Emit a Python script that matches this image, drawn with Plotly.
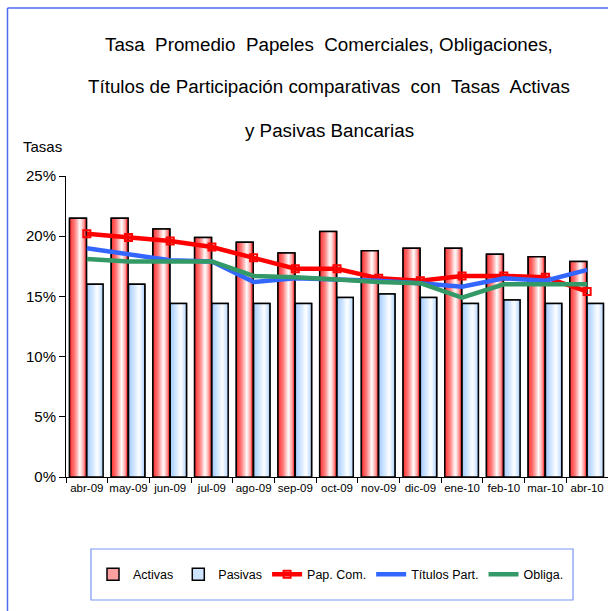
import plotly.graph_objects as go

categories = ["abr-09", "may-09", "jun-09", "jul-09", "ago-09", "sep-09", "oct-09",
              "nov-09", "dic-09", "ene-10", "feb-10", "mar-10", "abr-10"]
activas = [0.215, 0.215, 0.206, 0.199, 0.195, 0.186, 0.204, 0.188, 0.190, 0.190, 0.185, 0.183, 0.179]
pasivas = [0.160, 0.160, 0.144, 0.144, 0.144, 0.144, 0.149, 0.152, 0.149, 0.144, 0.147, 0.144, 0.144]
pap_com = [0.202, 0.199, 0.196, 0.191, 0.182, 0.173, 0.173, 0.165, 0.163, 0.167, 0.167, 0.166, 0.154]
titulos = [0.190, 0.185, 0.180, 0.179, 0.162, 0.165, 0.164, 0.163, 0.161, 0.158, 0.165, 0.163, 0.172]
obliga = [0.181, 0.179, 0.179, 0.179, 0.167, 0.166, 0.164, 0.162, 0.161, 0.149, 0.160, 0.160, 0.160]
y_ticks = [0, 0.05, 0.10, 0.15, 0.20, 0.25]

FONT = "Liberation Sans, Arial, sans-serif"

W, H = 608, 611
L, R, T, B = 66, 0, 176, 134
PH = H - T - B
PW = W - L - R


def px2yp(py):
    return (H - B - py) / PH


def px2xp(px):
    return (px - L) / PW


def hex2rgb(h):
    h = h.lstrip('#')
    return tuple(int(h[i:i + 2], 16) for i in (0, 2, 4))


def interp(stops, t):
    for (t0, c0), (t1, c1) in zip(stops, stops[1:]):
        if t0 <= t <= t1:
            f = (t - t0) / (t1 - t0) if t1 > t0 else 0
            a, b = hex2rgb(c0), hex2rgb(c1)
            return "rgb(%d,%d,%d)" % tuple(round(a[k] + (b[k] - a[k]) * f) for k in range(3))
    return stops[-1][1]


fig = go.Figure()

bar_specs = [
    ("Activas", activas, -0.415, 0.405, "#ffa0a0",
     [(0, "#ff3030"), (0.3, "#ff7a7a"), (0.62, "#ffffff"), (0.8, "#ffb0b0"), (1, "#ff3838")]),
    ("Pasivas", pasivas, 0.0, 0.39, "#cfe4ff",
     [(0, "#a2cbff"), (0.35, "#d2e7ff"), (0.65, "#ffffff"), (1, "#b4d6ff")]),
]

N = 14
for name, vals, off, w, base_col, stops in bar_specs:
    fig.add_trace(go.Bar(x=categories, y=vals, name=name, offset=off, width=w,
                         marker=dict(color=base_col, line=dict(color="black", width=1.5)),
                         hoverinfo="skip"))
    for i in range(N):
        t = (i + 0.5) / N
        fig.add_trace(go.Bar(x=categories, y=vals, offset=off + i * w / N, width=w - i * w / N,
                             marker=dict(color=interp(stops, t), line=dict(width=0)),
                             showlegend=False, hoverinfo="skip"))
    fig.add_trace(go.Bar(x=categories, y=vals, offset=off, width=w, showlegend=False,
                         marker=dict(color="rgba(0,0,0,0)", line=dict(color="black", width=1.5)),
                         hoverinfo="skip"))

fig.add_trace(go.Scatter(x=categories, y=pap_com, name="Pap. Com.", mode="lines+markers",
                         line=dict(color="#ff0000", width=4.5),
                         marker=dict(symbol="square-open", size=7, color="#ff0000",
                                     line=dict(width=2, color="#ff0000"))))
fig.add_trace(go.Scatter(x=categories, y=titulos, name="Títulos Part.", mode="lines",
                         line=dict(color="#3366ff", width=4.5)))
fig.add_trace(go.Scatter(x=categories, y=obliga, name="Obliga.", mode="lines",
                         line=dict(color="#339966", width=4.5)))

title_lines = [
    ("Tasa  Promedio  Papeles  Comerciales, Obligaciones,", 45),
    ("Títulos de Participación comparativas  con  Tasas  Activas", 86),
    ("y Pasivas Bancarias", 130),
]
annotations = []
for txt, py in title_lines:
    annotations.append(dict(text=txt.replace("  ", "\u00a0 "), x=px2xp(329), y=px2yp(py),
                            xref="paper", yref="paper", showarrow=False,
                            xanchor="center", yanchor="middle",
                            font=dict(family=FONT, size=18.8, color="black")))
annotations.append(dict(text="Tasas", x=px2xp(21), y=px2yp(146), xref="paper", yref="paper",
                        showarrow=False, xanchor="left", yanchor="middle",
                        font=dict(family=FONT, size=15, color="black")))

shapes = [
    dict(type="line", xref="paper", yref="paper", x0=px2xp(7.5), x1=px2xp(7.5),
         y0=px2yp(620), y1=px2yp(8), line=dict(color="#4a6cf0", width=1.5), layer="below"),
    dict(type="line", xref="paper", yref="paper", x0=px2xp(7.5), x1=px2xp(615),
         y0=px2yp(8), y1=px2yp(8), line=dict(color="#4a6cf0", width=1.5), layer="below"),
    dict(type="rect", xref="paper", yref="paper", x0=px2xp(91), x1=px2xp(573),
         y0=px2yp(600), y1=px2yp(549), line=dict(color="#7b98f5", width=1.2)),
]

fig.update_layout(
    width=W, height=H,
    margin=dict(l=L, r=R, t=T, b=B, pad=0),
    barmode="overlay",
    paper_bgcolor="white", plot_bgcolor="white",
    font=dict(family=FONT, color="black"),
    showlegend=True,
    legend=dict(orientation="h", x=px2xp(93), xanchor="left", y=px2yp(574.5), yanchor="middle",
                font=dict(family=FONT, size=12.5, color="black"), bgcolor="rgba(0,0,0,0)",
                borderwidth=0, itemwidth=30, tracegroupgap=0),
    xaxis=dict(type="category", range=[-0.5, 12.5], showgrid=False, showline=True,
               linecolor="black", linewidth=1, ticks="outside", ticklen=5, tickcolor="black",
               tickson="boundaries", tickangle=0,
               tickfont=dict(family=FONT, size=11.5, color="black"), fixedrange=True),
    yaxis=dict(range=[0, 0.25], tickvals=y_ticks, tickformat=".0%", showgrid=False,
               showline=True, linecolor="black", linewidth=1, ticks="outside", ticklen=6,
               tickcolor="black", zeroline=False,
               tickfont=dict(family=FONT, size=15, color="black"), fixedrange=True),
    annotations=annotations,
    shapes=shapes,
)

fig.write_html(
    "out.html",
    config={"displayModeBar": False},
    post_script=(
        "var s=document.createElement('style');"
        "s.textContent='html,body{margin:0;padding:0;overflow:hidden;scrollbar-width:none}"
        "::-webkit-scrollbar{display:none;width:0;height:0}';"
        "document.head.appendChild(s);"
    ),
)
